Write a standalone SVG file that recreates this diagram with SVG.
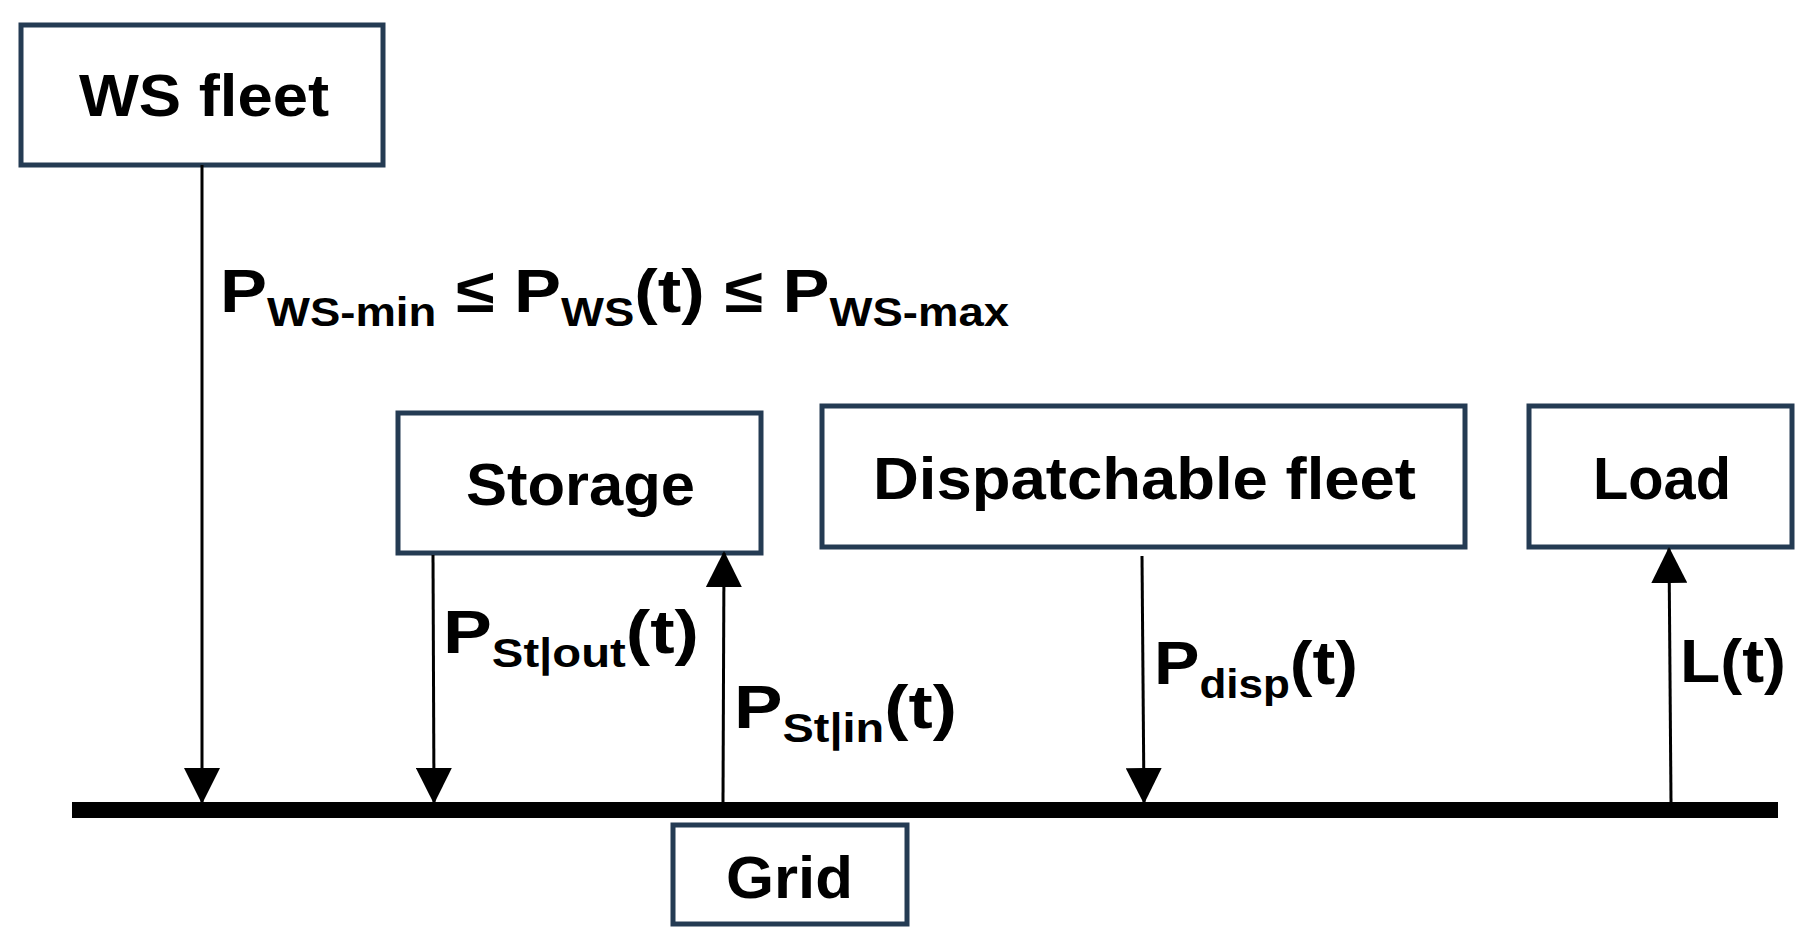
<svg xmlns="http://www.w3.org/2000/svg" width="1812" height="947" viewBox="0 0 1812 947">
<style>
.box{fill:#fff;stroke:#243b53;stroke-width:5}
.t{font-family:"Liberation Sans",Arial,sans-serif;font-weight:bold;fill:#000}
.n{font-size:60px}
.l{font-size:62px}
.s{font-size:40px}
.c{stroke:#000;stroke-width:3;fill:none}
</style>
<defs>
<marker id="ah" markerUnits="userSpaceOnUse" markerWidth="36" markerHeight="36" refX="34" refY="18" orient="auto" viewBox="0 0 36 36">
<path d="M0,0 L36,18 L0,36 Z" fill="#000"/>
</marker>
</defs>
<rect width="1812" height="947" fill="#fff"/>
<g id="ws"><rect class="box" x="21" y="25" width="362" height="140"/><text class="t n" x="79" y="116" textLength="250" lengthAdjust="spacingAndGlyphs">WS fleet</text></g>
<g id="storage"><rect class="box" x="398" y="413" width="363" height="140"/><text class="t n" x="466" y="505" textLength="229" lengthAdjust="spacingAndGlyphs">Storage</text></g>
<g id="disp"><rect class="box" x="822" y="406" width="643" height="141"/><text class="t n" x="873" y="499" textLength="543" lengthAdjust="spacingAndGlyphs">Dispatchable fleet</text></g>
<g id="load"><rect class="box" x="1529" y="406" width="263" height="141"/><text class="t n" x="1593" y="499" textLength="138" lengthAdjust="spacingAndGlyphs">Load</text></g>
<g id="grid"><rect class="box" x="673" y="825" width="234" height="99"/><text class="t n" x="726" y="898" textLength="127" lengthAdjust="spacingAndGlyphs">Grid</text></g>
<g id="connectors">
<rect x="72" y="802" width="1706" height="16" fill="#000"/>
<line class="c" x1="202" y1="165" x2="202" y2="802" marker-end="url(#ah)"/>
<line class="c" x1="433" y1="555" x2="434" y2="802" marker-end="url(#ah)"/>
<line class="c" x1="723" y1="802" x2="724" y2="553" marker-end="url(#ah)"/>
<line class="c" x1="1142" y1="556" x2="1144" y2="802" marker-end="url(#ah)"/>
<line class="c" x1="1671" y1="802" x2="1669" y2="549" marker-end="url(#ah)"/>
</g>
<g id="labels">
<text class="t l" x="220" y="312" textLength="789" lengthAdjust="spacingAndGlyphs">P<tspan class="s" dy="14">WS-min</tspan><tspan dy="-14"> ≤ P</tspan><tspan class="s" dy="14">WS</tspan><tspan dy="-14">(t) ≤ P</tspan><tspan class="s" dy="14">WS-max</tspan></text>
<text class="t l" x="443" y="653" textLength="256" lengthAdjust="spacingAndGlyphs">P<tspan class="s" dy="14">St|out</tspan><tspan dy="-14">(t)</tspan></text>
<text class="t l" x="734" y="728" textLength="223" lengthAdjust="spacingAndGlyphs">P<tspan class="s" dy="14">St|in</tspan><tspan dy="-14">(t)</tspan></text>
<text class="t l" x="1154" y="684" textLength="204" lengthAdjust="spacingAndGlyphs">P<tspan class="s" dy="14">disp</tspan><tspan dy="-14">(t)</tspan></text>
<text class="t l" x="1680" y="682" textLength="106" lengthAdjust="spacingAndGlyphs">L(t)</text>
</g>
</svg>
